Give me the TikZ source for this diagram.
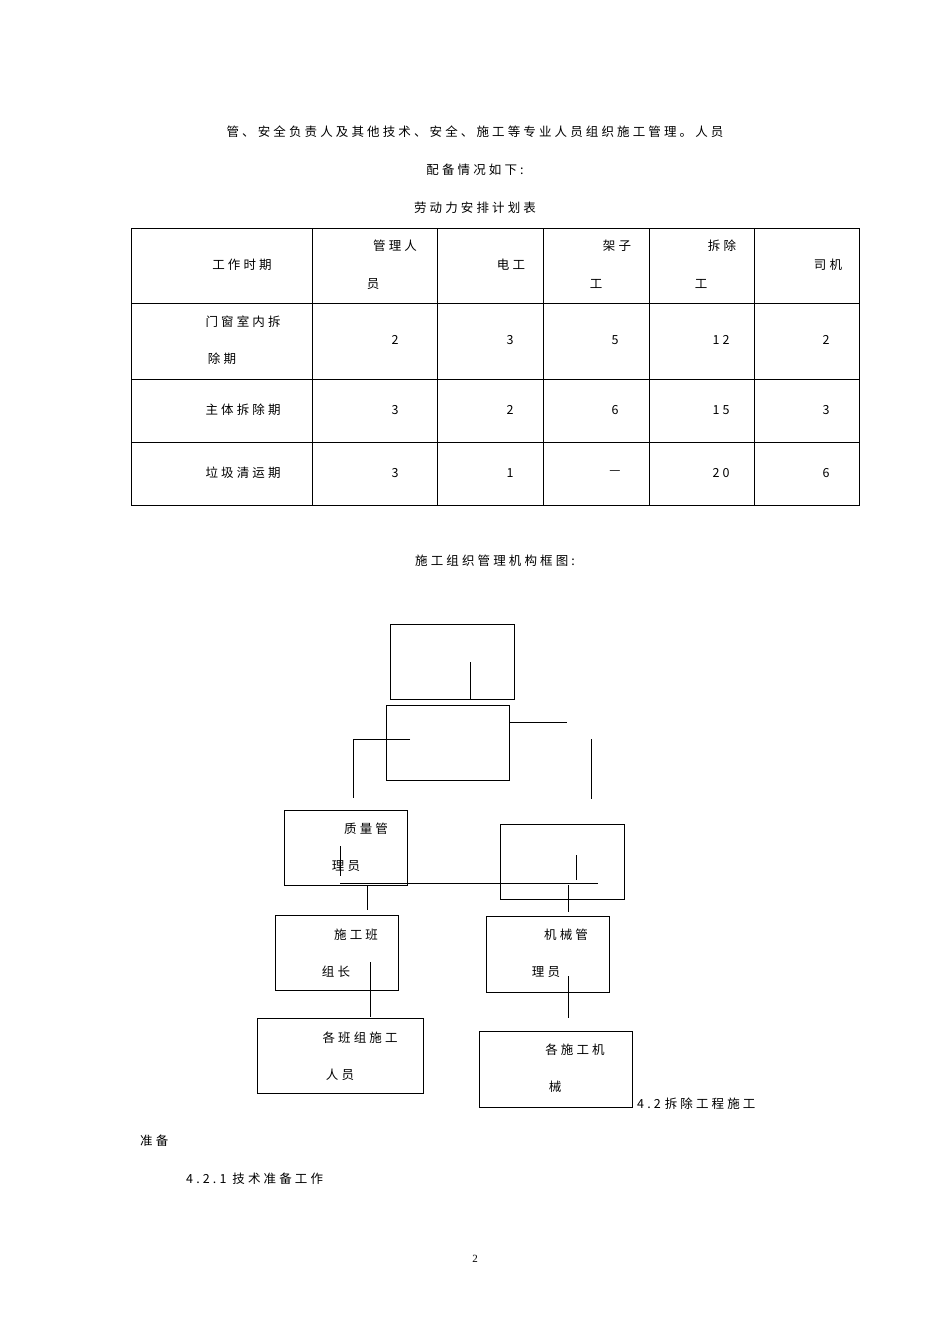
\documentclass[tikz,border=0pt]{standalone}
\usepackage{fontspec}
\setmainfont{Noto Sans CJK SC}[LetterSpace=25]
\begin{document}
\begin{tikzpicture}[x=1pt,y=-1pt,font=\fontsize{12.5}{14}\selectfont,
 bx/.style={draw,line width=0.8pt},
 ln/.style={line width=1pt},
 t/.style={inner sep=0pt}]
\useasboundingbox (0,0) rectangle (950,1344);
\node[t] (l1) at (475,132) {管、安全负责人及其他技术、安全、施工等专业人员组织施工管理。人员};
\node[t] (l2) at (475,170) {配备情况如下:};
\node[t] (l3) at (475,208) {劳动力安排计划表};
% table
\draw[line width=0.8pt] (131,228) rectangle (859,505);
\foreach \y in {303,379,442} \draw[line width=0.8pt] (131,\y) -- (859,\y);
\foreach \x in {312,437,543,649,754} \draw[line width=0.8pt] (\x,228) -- (\x,505);
\node[t] (h1) at (242,265) {工作时期};
\node[t] (h2a) at (395,246) {管理人};
\node[t] (h2b) at (373,284) {员};
\node[t] (h3) at (511,265) {电工};
\node[t] (h4a) at (617,246) {架子};
\node[t] (h4b) at (596,284) {工};
\node[t] (h5a) at (722,246) {拆除};
\node[t] (h5b) at (701,284) {工};
\node[t] (h6) at (828,265) {司机};
\node[t] (r1a) at (243,322) {门窗室内拆};
\node[t] (r1b) at (222,359) {除期};
\node[t] (r2) at (243,410) {主体拆除期};
\node[t] (r3) at (243,473) {垃圾清运期};
\foreach \y/\a/\b/\c/\d/\e in {340/2/3/5/12/2, 410/3/2/6/15/3, 473/3/1/—/20/6}{
 \node[t] at (395,\y) {\a}; \node[t] at (510,\y) {\b}; \node[t] at (615,\y) {\c};
 \node[t] at (721,\y) {\d}; \node[t] at (826,\y) {\e};}
\node[t] (cap) at (495,561) {施工组织管理机构框图:};
% org chart
\draw[bx] (390,624) rectangle (514,699);
\draw[bx] (386,705) rectangle (509,780);
\draw[bx] (284,810) rectangle (407,885);
\draw[bx] (500,824) rectangle (624,899);
\draw[bx] (275,915) rectangle (398,990);
\draw[bx] (486,916) rectangle (609,992);
\draw[bx] (257,1018) rectangle (423,1093);
\draw[bx] (479,1031) rectangle (632,1107);
\draw[ln] (470,662) -- (470,699);
\draw[ln] (509,722) -- (567,722);
\draw[ln] (410,739) -- (353,739) -- (353,798);
\draw[ln] (591,739) -- (591,799);
\draw[ln] (340,883) -- (598,883);
\draw[ln] (340,846) -- (340,876);
\draw[ln] (576,855) -- (576,880);
\draw[ln] (367,885) -- (367,910);
\draw[ln] (568,885) -- (568,912);
\draw[ln] (370,962) -- (370,1017);
\draw[ln] (568,976) -- (568,1018);
\node[t] (q1) at (366,829) {质量管};
\node[t] (q2) at (346,866) {理员};
\node[t] (s1) at (356,935) {施工班};
\node[t] (s2) at (336,972) {组长};
\node[t] (m1) at (566,935) {机械管};
\node[t] (m2) at (546,972) {理员};
\node[t] (g1) at (360,1038) {各班组施工};
\node[t] (g2) at (340,1075) {人员};
\node[t] (j1) at (575,1050) {各施工机};
\node[t] (j2) at (555,1087) {械};
\node[t,anchor=west] (p1) at (637,1104) {4.2\hspace{4pt}拆除工程施工};
\node[t,anchor=west] (p2) at (140,1141) {准备};
\node[t,anchor=west] (p3) at (186,1179) {4.2.1 技术准备工作};
\node[t,font=\fontspec{Liberation Serif}\fontsize{11}{12}\selectfont] (pg) at (475,1259) {2};
\end{tikzpicture}
\end{document}
